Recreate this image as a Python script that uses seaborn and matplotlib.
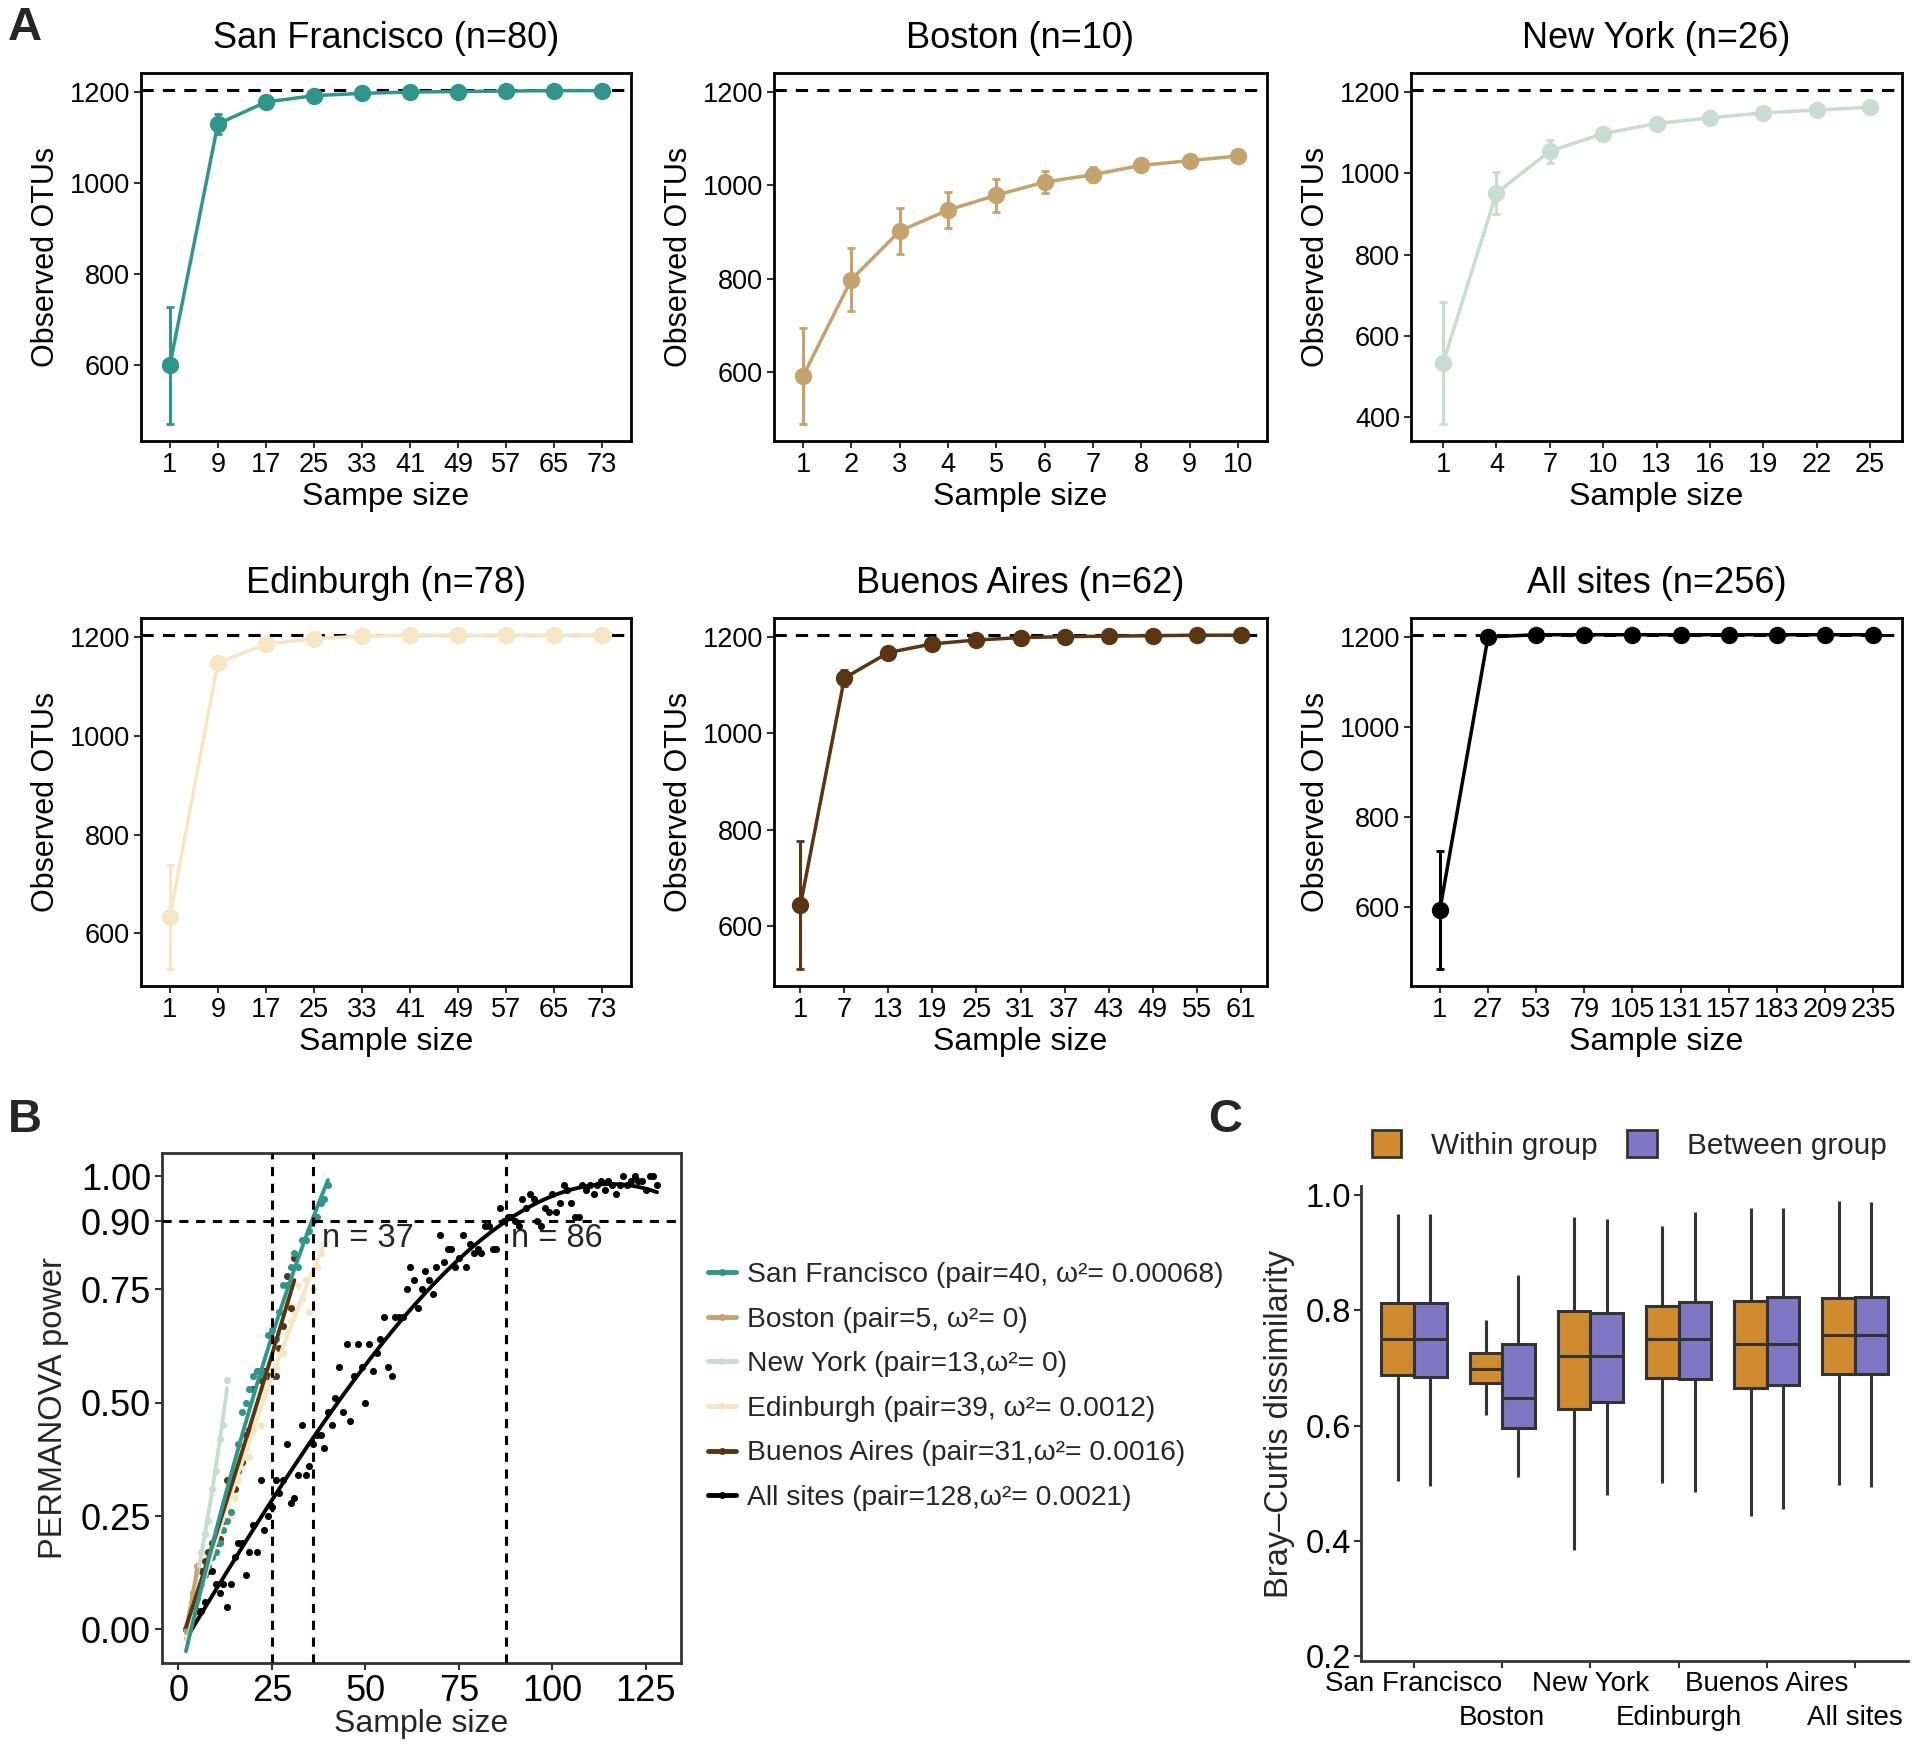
import numpy as np
import pandas as pd
import matplotlib
matplotlib.use("Agg")
import matplotlib.pyplot as plt
import seaborn as sns
from matplotlib.lines import Line2D
from matplotlib.patches import Patch

sns.set_theme(style="white")
plt.rcParams["font.family"] = ["Liberation Sans", "DejaVu Sans"]
plt.rcParams["axes.unicode_minus"] = False

# ---------------- Panel A data (rarefaction curves) ----------------
sf_x = [1, 9, 17, 25, 33, 41, 49, 57, 65, 73]
sf_y = [600, 1130, 1178, 1192, 1197, 1200, 1201, 1202, 1203, 1203]
sf_err = [129, 22, 5, 3, 2, 1, 1, 1, 1, 1]

bos_x = [1, 2, 3, 4, 5, 6, 7, 8, 9, 10]
bos_y = [591, 798, 902, 947, 979, 1007, 1023, 1043, 1053, 1063]
bos_err = [103, 67, 50, 39, 35, 23, 16, 4, 3, 2]

ny_x = [1, 4, 7, 10, 13, 16, 19, 22, 25]
ny_y = [533, 951, 1054, 1097, 1122, 1136, 1148, 1155, 1162]
ny_err = [150, 52, 28, 12, 5, 3, 3, 2, 2]

edi_x = [1, 9, 17, 25, 33, 41, 49, 57, 65, 73]
edi_y = [633, 1148, 1186, 1197, 1202, 1204, 1204, 1204, 1204, 1204]
edi_err = [106, 12, 5, 3, 2, 1, 1, 1, 1, 1]

ba_x = [1, 7, 13, 19, 25, 31, 37, 43, 49, 55, 61]
ba_y = [643, 1115, 1168, 1186, 1194, 1199, 1201, 1202, 1203, 1204, 1204]
ba_err = [133, 17, 6, 4, 3, 2, 1, 1, 1, 1, 1]

all_x = [1, 27, 53, 79, 105, 131, 157, 183, 209, 235]
all_y = [593, 1200, 1205, 1205, 1205, 1205, 1205, 1205, 1205, 1205]
all_err = [132, 2, 1, 1, 1, 1, 1, 1, 1, 1]

total_otus = 1205

site_names = ["San Francisco", "Boston", "New York", "Edinburgh", "Buenos Aires", "All sites"]
site_n = [80, 10, 26, 78, 62, 256]
site_colors = ["#2E968A", "#C4A46C", "#C8DDD2", "#F6E6C2", "#5A3512", "#000000"]
xlabels_a = ["Sampe size", "Sample size", "Sample size", "Sample size", "Sample size", "Sample size"]

# ---------------- Panel B data (PERMANOVA power) ----------------
b_sf = [0.00, 0.02, 0.05, 0.07, 0.10, 0.12, 0.14, 0.16, 0.17, 0.19, 0.22, 0.24, 0.26,
        0.34, 0.41, 0.48, 0.50, 0.53, 0.56, 0.57, 0.57, 0.56, 0.65, 0.66, 0.64, 0.70,
        0.76, 0.76, 0.80, 0.83, 0.80, 0.86, 0.86, 0.88, 0.90, 0.91, 0.94, 0.95, 0.98]
b_bos = [0.00, 0.03, 0.08, 0.14]
b_ny = [0.00, 0.04, 0.08, 0.13, 0.17, 0.21, 0.24, 0.31, 0.35, 0.42, 0.45, 0.55]
b_edi = [0.00, 0.01, 0.03, 0.06, 0.10, 0.12, 0.16, 0.18, 0.17, 0.20, 0.22, 0.27, 0.25,
         0.29, 0.33, 0.36, 0.40, 0.38, 0.44, 0.48, 0.45, 0.53, 0.55, 0.57, 0.58, 0.65,
         0.61, 0.72, 0.68, 0.70, 0.76, 0.73, 0.77, 0.70, 0.75, 0.80, 0.83, 0.85]
b_ba = [0.00, 0.02, 0.05, 0.08, 0.13, 0.15, 0.17, 0.19, 0.19, 0.20, 0.24, 0.33, 0.31,
        0.31, 0.35, 0.37, 0.43, 0.44, 0.53, 0.57, 0.55, 0.57, 0.56, 0.56, 0.56, 0.62,
        0.67, 0.78, 0.71, 0.82]
b_all = [0.00, 0.01, 0.02, 0.04, 0.04, 0.06, 0.13, 0.13, 0.10, 0.08, 0.10, 0.05, 0.10,
         0.16, 0.19, 0.19, 0.12, 0.17, 0.23, 0.17, 0.33, 0.22, 0.25, 0.27, 0.33, 0.30,
         0.33, 0.41, 0.28, 0.29, 0.34, 0.45, 0.34, 0.36, 0.41, 0.43, 0.43, 0.40, 0.48,
         0.45, 0.51, 0.58, 0.48, 0.63, 0.46, 0.56, 0.63, 0.58, 0.50, 0.63, 0.57, 0.61,
         0.64, 0.69, 0.58, 0.56, 0.69, 0.69, 0.69, 0.75, 0.80, 0.77, 0.71, 0.75, 0.79,
         0.77, 0.74, 0.80, 0.87, 0.81, 0.84, 0.84, 0.80, 0.82, 0.87, 0.80, 0.85, 0.83,
         0.84, 0.83, 0.89, 0.89, 0.84, 0.84, 0.93, 0.90, 0.91, 0.91, 0.90, 0.89, 0.95,
         0.93, 0.96, 0.95, 0.90, 0.89, 0.93, 0.92, 0.96, 0.92, 0.94, 0.98, 0.97, 0.94,
         0.91, 0.91, 0.98, 0.97, 0.98, 0.96, 0.98, 0.99, 0.97, 0.99, 0.98, 0.96, 0.98,
         1.00, 0.98, 0.99, 1.00, 0.99, 0.99, 0.97, 1.00, 1.00, 0.98]
b_labels = ["San Francisco (pair=40, \u03c9\u00b2= 0.00068)",
            "Boston (pair=5, \u03c9\u00b2= 0)",
            "New York (pair=13,\u03c9\u00b2= 0)",
            "Edinburgh (pair=39, \u03c9\u00b2= 0.0012)",
            "Buenos Aires (pair=31,\u03c9\u00b2= 0.0016)",
            "All sites (pair=128,\u03c9\u00b2= 0.0021)"]
b_vlines = [25, 36, 87.5]
b_hline = 0.90
b_notes = ["n = 37", "n = 86"]

# ---------------- Panel C data (Bray-Curtis boxes: low, q1, median, q3, high) ----------------
c_within = [[0.504, 0.687, 0.750, 0.813, 0.967],
            [0.619, 0.674, 0.698, 0.726, 0.784],
            [0.384, 0.629, 0.720, 0.799, 0.962],
            [0.500, 0.682, 0.750, 0.808, 0.947],
            [0.442, 0.666, 0.742, 0.817, 0.977],
            [0.497, 0.690, 0.757, 0.821, 0.990]]
c_between = [[0.495, 0.684, 0.750, 0.813, 0.967],
             [0.511, 0.595, 0.647, 0.742, 0.861],
             [0.479, 0.641, 0.720, 0.795, 0.958],
             [0.484, 0.681, 0.750, 0.815, 0.971],
             [0.455, 0.671, 0.742, 0.823, 0.978],
             [0.494, 0.690, 0.757, 0.823, 0.988]]
c_groups = ["Within group", "Between group"]
c_colors = ["#D08B2F", "#8077C4"]

# ---------------- Figure ----------------
W, H = 1920, 1751
fig = plt.figure(figsize=(W / 100, H / 100), dpi=100)


def fbox(x0, y0, x1, y1):
    return [x0 / W, 1 - y1 / H, (x1 - x0) / W, (y1 - y0) / H]


TICK = 19.5
LAB = 23
TIT = 26

a_boxes = [fbox(141, 73, 631, 441), fbox(774, 73, 1267, 441), fbox(1411, 73, 1902, 441),
           fbox(141, 618, 631, 986), fbox(774, 618, 1267, 986), fbox(1411, 618, 1902, 986)]
a_data = [(sf_x, sf_y, sf_err), (bos_x, bos_y, bos_err), (ny_x, ny_y, ny_err),
          (edi_x, edi_y, edi_err), (ba_x, ba_y, ba_err), (all_x, all_y, all_err)]

for i, (box, (xs, ys, er)) in enumerate(zip(a_boxes, a_data)):
    ax = fig.add_axes(box)
    c = site_colors[i]
    ax.axhline(total_otus, color="black", ls=(0, (4, 3)), lw=2.2, zorder=1)
    ax.errorbar(xs, ys, yerr=er, fmt="none", ecolor=c, elinewidth=2.2, capsize=3, capthick=2, zorder=2)
    sns.lineplot(x=xs, y=ys, color=c, marker="o", markersize=12.5, markeredgewidth=0,
                 linewidth=2.5, ax=ax, zorder=3)
    lo = min(np.array(ys) - np.array(er))
    hi = total_otus
    pad = (hi - lo) * 0.05
    ax.set_ylim(lo - pad, hi + pad)
    step = xs[1] - xs[0]
    ax.set_xlim(xs[0] - 0.6 * step, xs[-1] + 0.6 * step)
    ax.set_xticks(xs)
    ax.set_xticklabels([str(v) for v in xs])
    lo_tick = 400 if i == 2 else 600
    ax.set_yticks(np.arange(lo_tick, 1201, 200))
    ax.tick_params(axis="both", labelsize=TICK, length=5, width=1.5, colors="#333333",
                   labelcolor="black", direction="out", bottom=True, left=True, pad=3)
    for s in ax.spines.values():
        s.set_color("black")
        s.set_linewidth(2)
    ax.set_title(f"{site_names[i]} (n={site_n[i]})", fontsize=TIT, pad=18, color="black")
    ax.set_xlabel(xlabels_a[i], fontsize=LAB, labelpad=3, color="black")
    ax.set_ylabel("Observed OTUs", fontsize=22, labelpad=6, color="black")

# ---------------- Panel B ----------------
axb = fig.add_axes(fbox(162, 1153, 681, 1663))
b_series = [b_sf, b_bos, b_ny, b_edi, b_ba, b_all]
draw_order = [5, 3, 2, 1, 4, 0]
for k in draw_order:
    ys = b_series[k]
    xs = np.arange(2, 2 + len(ys))
    order = 3 if k == 5 else (1 if k == 1 else 2)
    sns.regplot(x=xs, y=ys, order=order, ci=None, ax=axb, color=site_colors[k],
                scatter_kws=dict(s=26, linewidths=0, alpha=1),
                line_kws=dict(lw=2.8), truncate=True)
for v in b_vlines:
    axb.axvline(v, color="black", ls=(0, (3, 2.5)), lw=2.2, zorder=5)
axb.axhline(b_hline, color="black", ls=(0, (3, 2.5)), lw=2.2, zorder=5)
axb.text(38.3, 0.862, b_notes[0], fontsize=23.5, va="center", ha="left")
axb.text(89.0, 0.862, b_notes[1], fontsize=23.5, va="center", ha="left")
axb.set_xlim(-4.4, 134.4)
axb.set_ylim(-0.074, 1.051)
axb.set_xticks([0, 25, 50, 75, 100, 125])
axb.set_yticks([0, 0.25, 0.5, 0.75, 0.9, 1.0])
axb.set_yticklabels(["0.00", "0.25", "0.50", "0.75", "0.90", "1.00"])
axb.tick_params(axis="both", labelsize=26, length=5, width=1.5, colors="#333333",
                labelcolor="black", bottom=True, left=True, pad=3)
for s in axb.spines.values():
    s.set_color("#333333")
    s.set_linewidth(2)
axb.set_xlabel("Sample size", fontsize=23, labelpad=0)
axb.set_ylabel("PERMANOVA power", fontsize=23.5, labelpad=8)

handles = [Line2D([0], [0], color=site_colors[k], lw=3.5, marker="o", markersize=5,
                  markeredgewidth=0) for k in range(6)]
fig.legend(handles, b_labels, loc="upper left", bbox_to_anchor=(708 / W, 1 - 1262 / H),
           frameon=False, fontsize=20.3, handlelength=1.0, handletextpad=0.4,
           labelspacing=0.66, borderaxespad=0, borderpad=0)

# ---------------- Panel C ----------------
axc = fig.add_axes(fbox(1361, 1186, 1908, 1661))
rows = []
for si, site in enumerate(site_names):
    for v in c_within[si]:
        rows.append((site, c_groups[0], v))
    for v in c_between[si]:
        rows.append((site, c_groups[1], v))
dfc = pd.DataFrame(rows, columns=["site", "group", "value"])
sns.boxplot(data=dfc, x="site", y="value", hue="group", order=site_names, hue_order=c_groups,
            palette=c_colors, whis=np.inf, width=0.74, gap=0.0, linewidth=2.2,
            linecolor="#333333", fliersize=0, ax=axc, legend=False, saturation=1,
            showcaps=False)
axc.set_xlim(-0.6, 5.6)
axc.set_ylim(0.191, 1.016)
axc.set_yticks([0.2, 0.4, 0.6, 0.8, 1.0])
axc.set_yticklabels(["0.2", "0.4", "0.6", "0.8", "1.0"])
axc.set_xticks(range(6))
axc.set_xticklabels(site_names)
axc.tick_params(axis="y", labelsize=23.5, length=5, width=1.5, colors="#333333",
                labelcolor="black", left=True, pad=2)
axc.tick_params(axis="x", labelsize=20, length=5, width=1.5, colors="#333333",
                labelcolor="black", bottom=True, pad=2)
for j, t in enumerate(axc.xaxis.get_major_ticks()):
    if j % 2 == 1:
        t.tick1line.set_markersize(14)
        t.set_pad(27)
sns.despine(ax=axc)
for sp in ["left", "bottom"]:
    axc.spines[sp].set_color("#333333")
    axc.spines[sp].set_linewidth(2)
axc.set_xlabel("")
axc.set_ylabel("Bray\u2013Curtis dissimilarity", fontsize=23.5, labelpad=8)
axc.legend([Patch(facecolor=c_colors[0], edgecolor="#333333", lw=2),
            Patch(facecolor=c_colors[1], edgecolor="#333333", lw=2)], c_groups,
           loc="lower center", bbox_to_anchor=(0.49, 1.03), ncol=2, frameon=False,
           fontsize=21.4, handlelength=1.0, handleheight=1.0, handletextpad=1.0,
           columnspacing=1.0, borderaxespad=0)

# ---------------- Panel letters ----------------
fig.text(8 / W, 1 - 6 / H, "A", fontsize=34, fontweight="bold", va="top", ha="left")
fig.text(8 / W, 1 - 1098 / H, "B", fontsize=34, fontweight="bold", va="top", ha="left")
fig.text(1208 / W, 1 - 1098 / H, "C", fontsize=34, fontweight="bold", va="top", ha="left")

fig.savefig("out.png", dpi=100, facecolor="white")
